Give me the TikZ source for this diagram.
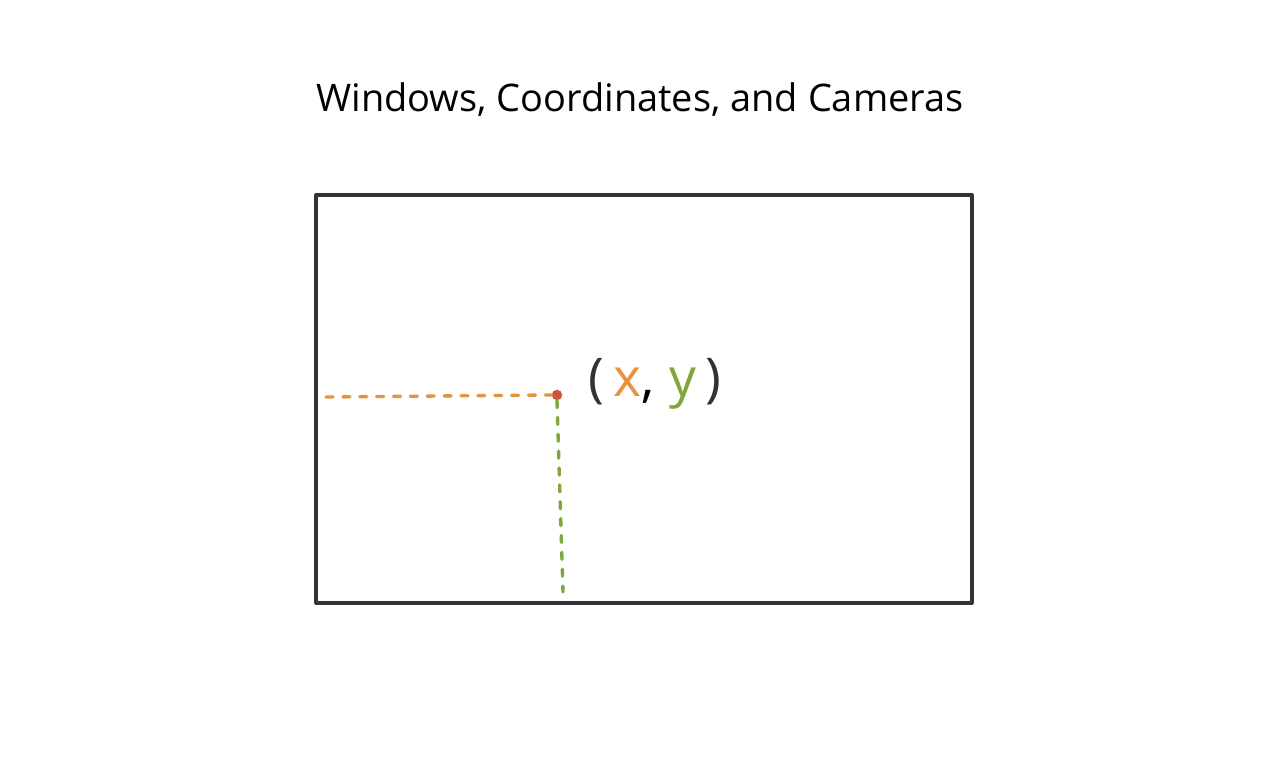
\documentclass[tikz,border=0pt]{standalone}
\usepackage{fontspec}
\setmainfont{Open Sans}
\usepackage{tikz}
\usetikzlibrary{positioning}
\definecolor{ink}{HTML}{333333}
\definecolor{xcol}{HTML}{E8913F}
\definecolor{ycol}{HTML}{7FA83A}
\definecolor{ptcol}{HTML}{CC5540}
\tikzset{window/.style={draw=ink,line width=2.2pt,inner sep=0pt,minimum width=16.4cm,minimum height=10.2cm},
  guide/.style={line width=2.4pt,line cap=round,dash pattern=on 5pt off 7pt}}

\begin{document}
\begin{tikzpicture}[line join=round]
\useasboundingbox (0,0) rectangle (32,19.45);
% --- title and window
\node[font=\fontsize{27}{32}\selectfont] (title) at (16.0,16.95) {Windows, Coordinates, and Cameras};
\node[window] (win) at (16.1,9.475) {};
% --- the point and its label
\node[circle,fill=ptcol,inner sep=0pt,minimum size=7.5pt] (pt) at (13.925,9.575) {};
\node[anchor=west,font=\fontsize{38}{44}\selectfont,text=ink] (lbl) at (14.6,9.85) {(\,\textcolor{xcol}{x}\textcolor{black}{,}\;\textcolor{ycol}{y}\,)};
\coordinate (xend) at (8.15,9.525);
\coordinate (yend) at (14.075,4.65);
\draw[guide,xcol] (xend) -- (pt.west);
\draw[guide,ycol] (pt.south) -- (yend);
\end{tikzpicture}
\end{document}
